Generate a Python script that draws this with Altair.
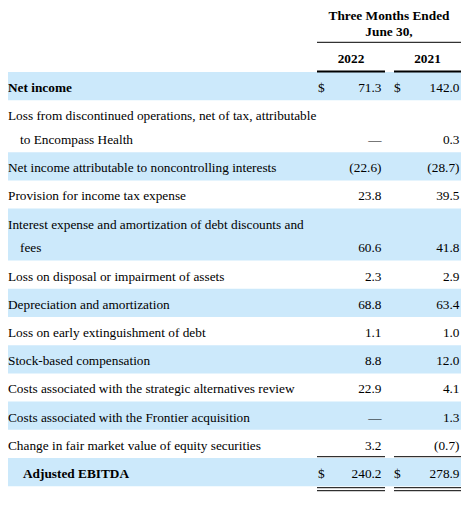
import altair as alt
import pandas as pd

# ---------------- data ----------------
labels = [
    ["Net income"],
    ["Loss from discontinued operations, net of tax, attributable", "to Encompass Health"],
    ["Net income attributable to noncontrolling interests"],
    ["Provision for income tax expense"],
    ["Interest expense and amortization of debt discounts and", "fees"],
    ["Loss on disposal or impairment of assets"],
    ["Depreciation and amortization"],
    ["Loss on early extinguishment of debt"],
    ["Stock-based compensation"],
    ["Costs associated with the strategic alternatives review"],
    ["Costs associated with the Frontier acquisition"],
    ["Change in fair market value of equity securities"],
    ["Adjusted EBITDA"],
]
v2022 = [71.3, None, -22.6, 23.8, 60.6, 2.3, 68.8, 1.1, 8.8, 22.9, None, 3.2, 240.2]
v2021 = [142.0, 0.3, -28.7, 39.5, 41.8, 2.9, 63.4, 1.0, 12.0, 4.1, 1.3, -0.7, 278.9]
years = ["2022", "2021"]
period_title = ["Three Months Ended", "June 30,"]
dollar_rows = [0, 12]
bold_rows = [0, 12]
total_row = 12

# ---------------- layout ----------------
M = 8
X_MAX, Y_MAX = 461, 496          # page coordinates of the svg's right/bottom edge
FONT = "Liberation Serif"
FS = 13.3
BAND = "#cce9fb"
TOP = 72.0
ROW = 28.2
LINE = 23.8
BASE = 20.0
LABEL_X = 8
INDENT = 12
TOTAL_INDENT = 15
COLS = [(317, 385), (394, 461)]
VAL_X = [381.5, 459.5]
DOLLAR_X = [318, 394]


def fmt(v):
    if v is None:
        return "\u2014"
    return f"({abs(v):.1f})" if v < 0 else f"{v:.1f}"


bands, lab_rows, val_rows, dol_rows = [], [], [], []
top = TOP
row_tops = []
for i, lines in enumerate(labels):
    h = ROW + LINE * (len(lines) - 1)
    row_tops.append((top, top + h))
    if i % 2 == 0:
        bands.append({"x": M, "x2": COLS[1][1], "y": top, "y2": top + h})
    for j, line in enumerate(lines):
        x = LABEL_X + (INDENT if j > 0 else 0) + (TOTAL_INDENT if i == total_row else 0)
        lab_rows.append({"x": x, "y": top + BASE + LINE * j, "t": line,
                         "bold": i in bold_rows})
    yv = top + BASE + LINE * (len(lines) - 1)
    for c, vals in enumerate([v2022, v2021]):
        val_rows.append({"x": VAL_X[c], "y": yv, "t": fmt(vals[i])})
        if i in dollar_rows:
            dol_rows.append({"x": DOLLAR_X[c], "y": yv, "t": "$"})
    top += h

hdr = [
    {"x": (COLS[0][0] + COLS[1][1]) / 2, "y": 20, "t": period_title[0]},
    {"x": (COLS[0][0] + COLS[1][1]) / 2, "y": 36, "t": period_title[1]},
    {"x": sum(COLS[0]) / 2, "y": 63, "t": years[0]},
    {"x": sum(COLS[1]) / 2, "y": 63, "t": years[1]},
]

tot_top, tot_bot = row_tops[total_row]
rules = [{"x": COLS[0][0], "x2": COLS[1][1], "y": 42.3, "w": 1.0}]
for c0, c1 in COLS:
    rules.append({"x": c0, "x2": c1, "y": 71.5, "w": 1.8})
    rules.append({"x": c0, "x2": c1, "y": tot_top - 1.3, "w": 1.0})
    rules.append({"x": c0, "x2": c1, "y": tot_bot + 1.5, "w": 1.0})
    rules.append({"x": c0, "x2": c1, "y": tot_bot + 4.5, "w": 1.0})

xs = alt.Scale(domain=[M, X_MAX], nice=False, zero=False)
ys = alt.Scale(domain=[M, Y_MAX], nice=False, zero=False, reverse=True)
X = lambda f="x": alt.X(f"{f}:Q", scale=xs, axis=None)
Y = lambda f="y": alt.Y(f"{f}:Q", scale=ys, axis=None)

band_layer = alt.Chart(pd.DataFrame(bands)).mark_rect(color=BAND).encode(
    x=X(), x2="x2:Q", y=Y(), y2="y2:Q")

lab_df = pd.DataFrame(lab_rows)
lab_reg = alt.Chart(lab_df[~lab_df.bold]).mark_text(
    align="left", baseline="alphabetic", font=FONT, fontSize=FS, color="black"
).encode(x=X(), y=Y(), text="t:N")
lab_bold = alt.Chart(lab_df[lab_df.bold]).mark_text(
    align="left", baseline="alphabetic", font=FONT, fontSize=FS, fontWeight="bold", color="black"
).encode(x=X(), y=Y(), text="t:N")

val_layer = alt.Chart(pd.DataFrame(val_rows)).mark_text(
    align="right", baseline="alphabetic", font=FONT, fontSize=FS, color="black"
).encode(x=X(), y=Y(), text="t:N")

dol_layer = alt.Chart(pd.DataFrame(dol_rows)).mark_text(
    align="left", baseline="alphabetic", font=FONT, fontSize=FS, color="black"
).encode(x=X(), y=Y(), text="t:N")

hdr_layer = alt.Chart(pd.DataFrame(hdr)).mark_text(
    align="center", baseline="alphabetic", font=FONT, fontSize=FS, fontWeight="bold", color="black"
).encode(x=X(), y=Y(), text="t:N")

rule_layer = alt.Chart(pd.DataFrame(rules)).mark_rule(color="black").encode(
    x=X(), x2="x2:Q", y=Y(),
    strokeWidth=alt.StrokeWidth("w:Q", scale=None, legend=None))

chart = alt.layer(
    band_layer, rule_layer, lab_reg, lab_bold, val_layer, dol_layer, hdr_layer
).properties(
    width=X_MAX - M, height=Y_MAX - M, padding=0,
    autosize=alt.AutoSizeParams(type="none"),
    background="white",
).configure_view(stroke=None)

chart.save("out.html", embed_options={"renderer": "svg", "actions": False})
